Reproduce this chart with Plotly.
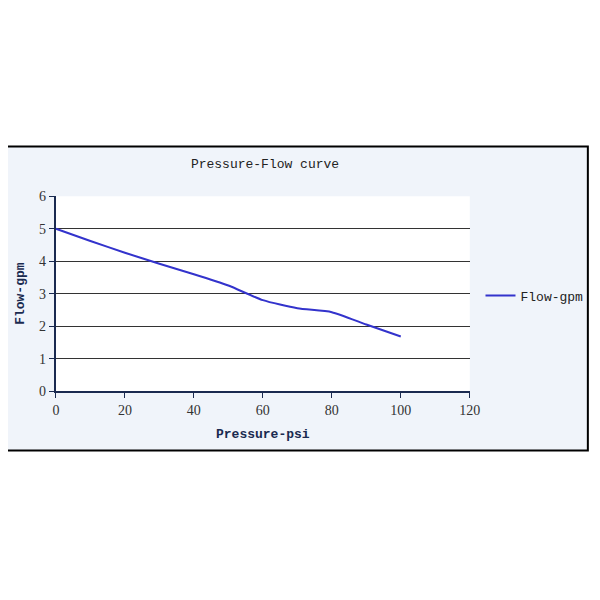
import plotly.graph_objects as go

pressure_psi = [0, 10, 20, 30, 40, 50, 60, 70, 80, 90, 100]
flow_gpm = [5.0, 4.62, 4.26, 3.92, 3.6, 3.25, 2.8, 2.55, 2.43, 2.05, 1.68]

S = 584.0  # figure size; page body adds 8px margin around it
def px(x):
    return (x - 8) / S
def py(y):
    return 1 - (y - 8) / S

fig = go.Figure()
fig.add_trace(go.Scatter(x=pressure_psi, y=flow_gpm, mode="lines", name="Flow-gpm",
                         line=dict(color="#3333cc", width=2, shape="spline", smoothing=0.6)))

fig.add_shape(type="rect", xref="paper", yref="paper", layer="below",
              x0=px(2), x1=px(598), y0=py(455), y1=py(143),
              fillcolor="#f0f4fa", line=dict(color="black", width=2))
fig.add_shape(type="rect", xref="paper", yref="paper", layer="below",
              x0=px(53), x1=px(477), y0=py(394), y1=py(194),
              fillcolor="white", line=dict(width=0))

tick_font = dict(family="Liberation Serif", size=14, color="#333333")
title_font = dict(family="Liberation Mono", size=13, color="#1a2a50")
fig.update_layout(
    width=int(S), height=int(S),
    margin=dict(l=0, r=0, t=0, b=0),
    paper_bgcolor="white", plot_bgcolor="rgba(0,0,0,0)",
    title=dict(text="Pressure-Flow curve", x=px(265), xanchor="center",
               y=py(163), yanchor="middle",
               font=dict(family="Liberation Mono", size=13, color="#222222")),
    xaxis=dict(domain=[px(53), px(477)], range=[0, 120], dtick=20,
               showgrid=False, zeroline=False, ticks="outside", ticklen=5,
               tickcolor="#1a2a50", showline=True, linecolor="#1a2a50", linewidth=2,
               tickfont=tick_font,
               title=dict(text="<b>Pressure-psi</b>", standoff=12, font=title_font)),
    yaxis=dict(domain=[py(394), py(194)], range=[0, 6], dtick=1,
               showgrid=True, gridcolor="#333333", gridwidth=1, zeroline=False,
               ticks="outside", ticklen=5, tickcolor="#1a2a50",
               showline=True, linecolor="#1a2a50", linewidth=2,
               tickfont=tick_font,
               title=dict(text="<b>Flow-gpm</b>", standoff=12, font=title_font)),
    showlegend=True,
    legend=dict(x=px(488), y=py(296), xanchor="left", yanchor="middle",
                bgcolor="rgba(0,0,0,0)",
                font=dict(family="Liberation Mono", size=13, color="#222222")),
)

fig.write_html("out.html")
